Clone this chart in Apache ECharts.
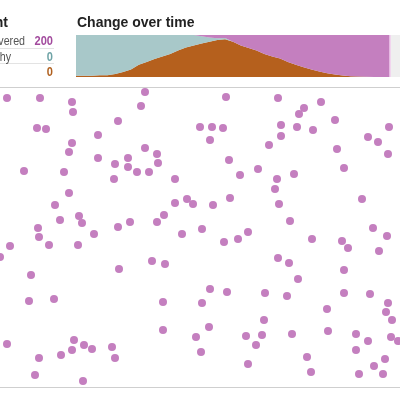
<!DOCTYPE html>
<html>
<head>
<meta charset="utf-8">
<script src="https://cdn.jsdelivr.net/npm/echarts@6/dist/echarts.min.js"></script>
<style>
  html, body { margin: 0; padding: 0; background: #fff; }
  #chart { width: 400px; height: 400px; }
</style>
</head>
<body>
<div id="chart"></div>
<script>
  // change over time, counts out of 200 people per time step (43 steps on the axis, 41 run so far)
  var timeSteps = ['0','1','2','3','4','5','6','7','8','9','10','11','12','13','14','15','16','17','18','19','20','21','22','23','24','25','26','27','28','29','30','31','32','33','34','35','36','37','38','39','40','41','42','43']
  var sickCounts = [6,6,6,8,8,14,24,36,58,72,86,98,110,126,140,150,160,168,176,180,168,150,138,126,110,98,88,72,58,46,36,26,18,12,7,4,2,1,0,0,0]
  var healthyCounts = [194,194,194,192,192,186,176,164,142,128,114,102,90,74,60,50,34,20,8,6,0,0,0,0,0,0,0,0,0,0,0,0,0,0,0,0,0,0,0,0,0]
  var recoveredCounts = [0,0,0,0,0,0,0,0,0,0,0,0,0,0,0,0,6,12,16,14,32,50,62,74,90,102,112,128,142,154,164,174,182,188,193,196,198,199,200,200,200]

  // current tally
  var tallyLabels = ['Recovered', 'Healthy', 'Sick']
  var tallyValues = [200, 0, 0]

  // people positions in the simulation box (x 0-400, y 0-300)
  var dotX = [7,40,72,73,145,141,118,37,46,200,98,72,69,145,157,98,128,115,158,128,137,149,24,64,114,175,69,55,175,187,193,79,82,60,164,130,157,38,118,39,94,182,10,49,78,
    226,278,321,304,299,335,212,223,281,297,313,389,210,281,269,368,378,388,337,229,344,258,240,294,277,275,230,213,279,362,290,202,373,248,238,224,312,342,387,
    0,31,119,152,165,29,54,163,202,163,196,201,7,74,84,92,72,112,61,39,115,35,83,
    348,379,278,289,344,298,210,227,265,287,344,370,388,327,386,392,264,209,246,262,292,328,356,368,391,398,256,356,307,385,248,374,311,359,383]
  var dotY = [11,11,15,25,5,19,34,41,42,40,48,56,65,61,67,71,71,77,76,80,85,85,84,85,92,92,106,118,116,112,117,129,136,133,128,135,135,141,140,150,147,147,159,158,158,
    10,11,15,21,27,33,40,41,38,40,43,40,53,49,58,50,55,67,62,73,81,82,88,87,92,102,111,118,117,112,134,142,141,145,152,155,152,154,149,
    170,188,182,174,177,214,212,215,216,243,250,265,257,253,258,262,263,260,268,271,271,288,294,
    161,164,171,176,183,192,202,205,206,209,206,207,216,222,225,233,233,240,249,248,247,244,247,254,250,254,258,263,270,272,277,279,285,287,287]

  var sickColor = '#b5601d'
  var healthyColor = '#a8c8c9'
  var recoveredColor = '#c47fbf'
  var numColors = ['#a24a9d', '#6ea3a6', '#b0601f']
  var font = 'Liberation Sans'

  var dots = dotX.map(function(x, i) { return [x, dotY[i]] })

  var graphics = [
    { type: 'text', x: 8, y: 23, style: { text: 'Current', font: 'bold 14px ' + font, fill: '#222', align: 'right', verticalAlign: 'middle' } },
    { type: 'text', x: 77, y: 23, style: { text: 'Change over time', font: 'bold 14px ' + font, fill: '#222', align: 'left', verticalAlign: 'middle' } },
    { type: 'line', shape: { x1: 0, y1: 48.5, x2: 54, y2: 48.5 }, style: { stroke: '#e3e3e3', lineWidth: 1 } },
    { type: 'line', shape: { x1: 0, y1: 63.5, x2: 54, y2: 63.5 }, style: { stroke: '#e3e3e3', lineWidth: 1 } }
  ]
  var labelRight = [25, 11, -3]
  var rowY = [41, 57, 72]
  tallyLabels.forEach(function(name, i) {
    graphics.push({ type: 'text', x: labelRight[i], y: rowY[i], scaleX: 0.82, style: { text: name, font: '13px ' + font, fill: '#555', align: 'right', verticalAlign: 'middle' } })
    graphics.push({ type: 'text', x: 53, y: rowY[i], scaleX: 0.85, style: { text: String(tallyValues[i]), font: 'bold 13px ' + font, fill: numColors[i], align: 'right', verticalAlign: 'middle' } })
  })

  function areaSeries(name, data, color) {
    return {
      name: name,
      type: 'line',
      xAxisIndex: 0,
      yAxisIndex: 0,
      stack: 'total',
      symbol: 'none',
      silent: true,
      lineStyle: { width: 0 },
      itemStyle: { color: color },
      areaStyle: { color: color, opacity: 1 },
      data: data
    }
  }

  var recSeries = areaSeries('Recovered', recoveredCounts, recoveredColor)
  recSeries.markLine = {
    silent: true,
    symbol: 'none',
    label: { show: false },
    lineStyle: { color: '#f2cdee', width: 1.5, type: 'solid' },
    data: [{ xAxis: String(recoveredCounts.length - 1) }]
  }

  var hiddenValueAxis = {
    axisTick: { show: false },
    axisLabel: { show: false },
    splitLine: { show: false }
  }

  var chart = echarts.init(document.getElementById('chart'))
  chart.setOption({
    animation: false,
    graphic: graphics,
    grid: [{
      left: 76, top: 35, width: 337.5, height: 42,
      outerBoundsMode: 'none',
      show: true, backgroundColor: '#efefef', borderWidth: 0
    }, {
      left: 0, top: 87, right: 0, height: 300,
      show: false
    }],
    xAxis: [{
      gridIndex: 0,
      type: 'category',
      boundaryGap: false,
      data: timeSteps,
      show: false
    }, Object.assign({
      gridIndex: 1,
      type: 'value',
      min: 0,
      max: 400,
      position: 'bottom',
      axisLine: { show: true, onZero: false, lineStyle: { color: '#cfcfcf', width: 1 } }
    }, hiddenValueAxis), Object.assign({
      gridIndex: 1,
      type: 'value',
      min: 0,
      max: 400,
      position: 'top',
      axisLine: { show: true, onZero: false, lineStyle: { color: '#cfcfcf', width: 1 } }
    }, hiddenValueAxis)],
    yAxis: [{
      gridIndex: 0,
      type: 'value',
      min: 0,
      max: 200,
      show: false
    }, {
      gridIndex: 1,
      type: 'value',
      min: 0,
      max: 300,
      inverse: true,
      show: false
    }],
    series: [
      areaSeries('Sick', sickCounts, sickColor),
      areaSeries('Healthy', healthyCounts, healthyColor),
      recSeries,
      {
        name: 'People',
        type: 'scatter',
        xAxisIndex: 1,
        yAxisIndex: 1,
        symbolSize: 8,
        clip: false,
        silent: true,
        itemStyle: { color: recoveredColor, opacity: 1 },
        data: dots
      }
    ]
  })
</script>
</body>
</html>
